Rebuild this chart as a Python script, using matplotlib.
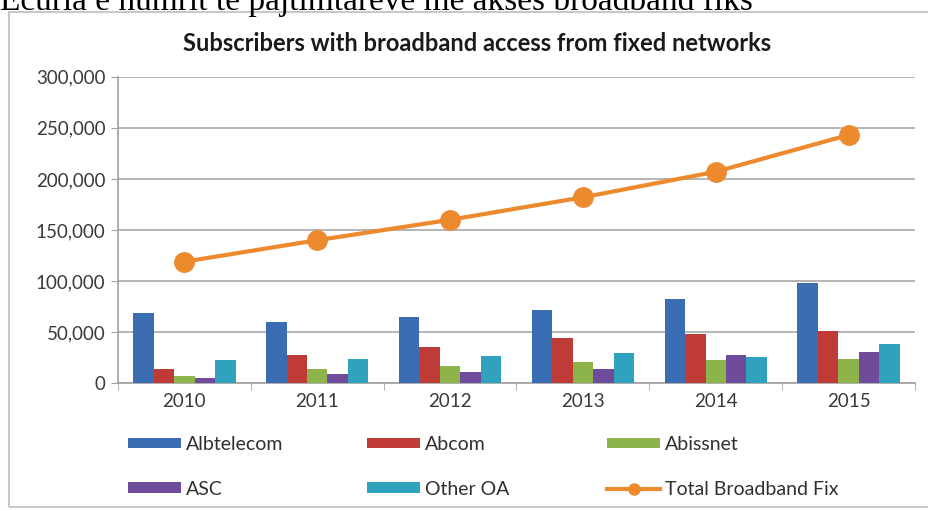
import matplotlib
matplotlib.use("Agg")
import matplotlib.pyplot as plt
import numpy as np
from matplotlib.patches import Rectangle
from matplotlib.ticker import FuncFormatter

years = ["2010", "2011", "2012", "2013", "2014", "2015"]
albtelecom = [69000, 60000, 65000, 72000, 82000, 98000]
abcom = [14000, 28000, 36000, 44000, 48000, 51000]
abissnet = [7000, 14000, 17000, 21000, 23000, 24000]
asc = [5000, 9500, 11000, 14000, 28000, 31000]
other_oa = [23000, 24000, 27000, 30000, 26000, 38000]
total = [119000, 140000, 160000, 182000, 207000, 243000]

series_names = ["Albtelecom", "Abcom", "Abissnet", "ASC", "Other OA"]
series_vals = [albtelecom, abcom, abissnet, asc, other_oa]
colors = ["#3B6DB3", "#BE3B37", "#8DB44A", "#6F4C9B", "#31A2BE"]
line_color = "#EE8A2E"

plt.rcParams['font.family'] = ['Lato', 'DejaVu Sans']

fig = plt.figure(figsize=(9.29, 5.11), dpi=100)
W, H = 929, 511

# chart frame
fig.patches.append(Rectangle((9 / W, 1 - 507 / H), (935 - 9) / W, (507 - 12) / H,
                             transform=fig.transFigure, fill=False,
                             edgecolor="#C8C8C8", linewidth=1.5))

# caption at top (cropped in the source image)
fig.text(0.0, 1 - 10 / H, "Ecuria e numrit te pajtimtareve me akses broadband fiks",
         family="Liberation Serif", fontsize=24, va="baseline", ha="left", color="black")

ax = fig.add_axes([118 / W, 1 - 383.3 / H, (915 - 118) / W, (383.3 - 76.7) / H])

x = np.arange(len(years))
bw = 0.154
handles = []
for i, (name, vals, c) in enumerate(zip(series_names, series_vals, colors)):
    h = ax.bar(x + (i - 2) * bw, vals, width=bw, color=c, label=name, zorder=3)
    handles.append(h)

ln, = ax.plot(x, total, color=line_color, linewidth=3, marker="o", markersize=14,
              label="Total Broadband Fix", zorder=4)

ax.set_xlim(-0.5, len(years) - 0.5)
ax.set_ylim(0, 300000)
ax.set_yticks(np.arange(0, 300001, 50000))
ax.yaxis.set_major_formatter(FuncFormatter(lambda v, p: f"{int(v):,}"))
ax.set_xticks(x)
ax.set_xticklabels(years)
ax.set_xticks(np.arange(-0.5, len(years)), minor=True)
ax.tick_params(axis="x", which="major", length=0, labelsize=13.5, colors="#3a3a3a", pad=7)
ax.tick_params(axis="x", which="minor", length=5, color="#A0A0A0")
ax.tick_params(axis="y", length=5, color="#A0A0A0", labelsize=13.5, labelcolor="#3a3a3a", pad=4)
ax.grid(axis="y", color="#A8A8A8", linewidth=1.2, zorder=0)
for s in ["top", "right"]:
    ax.spines[s].set_visible(False)
for s in ["left", "bottom"]:
    ax.spines[s].set_color("#A0A0A0")
    ax.spines[s].set_linewidth(1.2)

fig.text(477 / W, 1 - 43 / H, "Subscribers with broadband access from fixed networks",
         ha="center", va="center", fontsize=17, fontweight="bold", color="#1a1a1a")

cols = [
    ([handles[0], handles[3]], ["Albtelecom", "ASC"], 128),
    ([handles[1], handles[4]], ["Abcom", "Other OA"], 367),
    ([handles[2], ln], ["Abissnet", "Total Broadband Fix"], 607),
]
for hs, ls, xpx in cols:
    leg = fig.legend(hs, ls, ncol=1, loc="upper left",
                     bbox_to_anchor=(xpx / W, 1 - 436 / H),
                     frameon=False, fontsize=14, handlelength=2.75, handleheight=0.45,
                     labelspacing=1.42, handletextpad=0.25, borderpad=0, borderaxespad=0)
    for t in leg.get_texts():
        t.set_color("#303030")
    for lh in leg.legend_handles:
        if hasattr(lh, "set_markersize"):
            lh.set_markersize(8)

fig.savefig("out.png", dpi=100)
